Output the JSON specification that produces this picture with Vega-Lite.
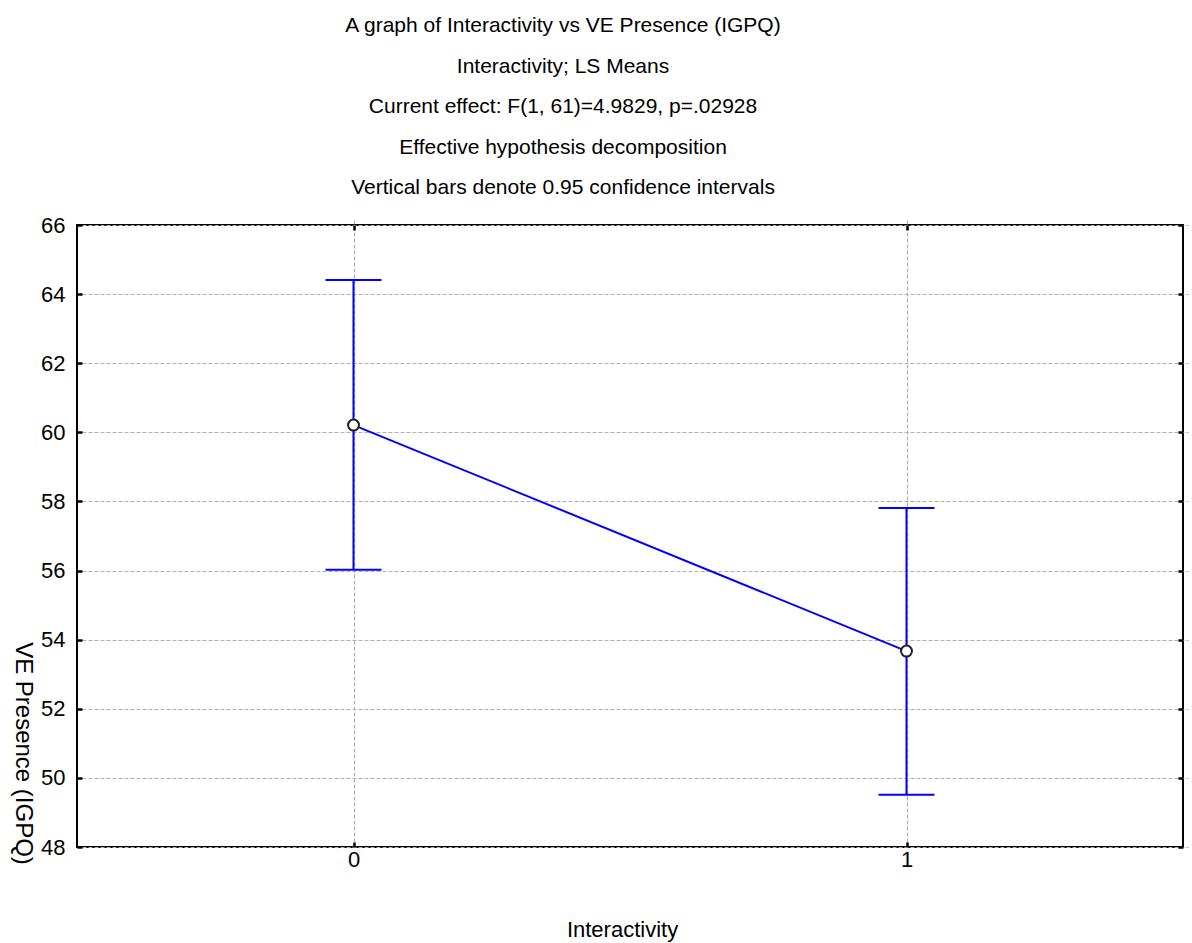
{
  "$schema": "https://vega.github.io/schema/vega-lite/v6.json",
  "autosize": {"type": "none"},
  "padding": {"left": 77, "top": 225, "right": 9, "bottom": 96},
  "width": 1106,
  "height": 622,
  "background": "white",
  "title": {
    "text": ["A graph of Interactivity vs VE Presence (IGPQ)", "Interactivity; LS Means", "Current effect: F(1, 61)=4.9829, p=.02928", "Effective hypothesis decomposition", "Vertical bars denote 0.95 confidence intervals"],
    "anchor": "middle",
    "frame": "group",
    "dx": -67,
    "offset": 16,
    "lineHeight": 40.5,
    "font": "Liberation Sans",
    "fontSize": 21,
    "fontWeight": "normal",
    "color": "black"
  },
  "config": {
    "view": {"stroke": "black", "strokeWidth": 2},
    "axis": {
      "domain": false,
      "grid": true,
      "gridColor": "#b0b0b0",
      "gridDash": [4, 2],
      "gridWidth": 1.2,
      "tickColor": "black",
      "tickWidth": 2.5,
      "tickSize": 5,
      "offset": -5,
      "labelFont": "Liberation Sans",
      "labelFontSize": 22,
      "labelColor": "black",
      "titleFont": "Liberation Sans",
      "titleFontSize": 22,
      "titleFontWeight": "normal",
      "titleColor": "black"
    }
  },
  "data": {
    "values": [
      {"Interactivity": 0, "mean": 60.21, "lower": 56.02, "upper": 64.41},
      {"Interactivity": 1, "mean": 53.67, "lower": 49.51, "upper": 57.81}
    ]
  },
  "layer": [
    {
      "mark": {"type": "rule", "color": "#0000ff", "strokeWidth": 2},
      "encoding": {
        "x": {
          "field": "Interactivity", "type": "quantitative",
          "scale": {"domain": [-0.5, 1.5], "nice": false, "zero": false},
          "axis": {"values": [0, 1], "format": "d", "labelPadding": 2, "title": "Interactivity", "titleX": 545, "titleY": 87, "titleBaseline": "middle", "titleAlign": "center"}
        },
        "y": {
          "field": "lower", "type": "quantitative",
          "scale": {"domain": [48, 66], "nice": false, "zero": false},
          "axis": {"values": [48, 50, 52, 54, 56, 58, 60, 62, 64, 66], "labelPadding": 12, "title": "VE Presence (IGPQ)", "titleFontSize": 24, "titleAngle": 90, "titleX": -60, "titleY": 528, "titleAlign": "center", "titleBaseline": "middle"}
        },
        "y2": {"field": "upper"}
      }
    },
    {
      "mark": {"type": "tick", "orient": "horizontal", "color": "#0000ff", "size": 56, "thickness": 2, "opacity": 1},
      "encoding": {
        "x": {"field": "Interactivity", "type": "quantitative", "axis": null},
        "y": {"field": "upper", "type": "quantitative", "axis": null}
      }
    },
    {
      "mark": {"type": "tick", "orient": "horizontal", "color": "#0000ff", "size": 56, "thickness": 2, "opacity": 1},
      "encoding": {
        "x": {"field": "Interactivity", "type": "quantitative", "axis": null},
        "y": {"field": "lower", "type": "quantitative", "axis": null}
      }
    },
    {
      "mark": {"type": "line", "color": "#0000ff", "strokeWidth": 2},
      "encoding": {
        "x": {"field": "Interactivity", "type": "quantitative", "axis": null},
        "y": {"field": "mean", "type": "quantitative", "axis": null}
      }
    },
    {
      "mark": {"type": "point", "shape": "circle", "filled": true, "fill": "white", "stroke": "#222222", "strokeWidth": 2, "size": 120, "opacity": 1},
      "encoding": {
        "x": {"field": "Interactivity", "type": "quantitative", "axis": {"orient": "top", "values": [0, 1], "labels": false, "grid": false, "title": null}},
        "y": {"field": "mean", "type": "quantitative", "axis": {"orient": "right", "values": [48, 50, 52, 54, 56, 58, 60, 62, 64, 66], "labels": false, "grid": false, "title": null}}
      }
    }
  ],
  "resolve": {"axis": {"x": "independent", "y": "independent"}}
}
